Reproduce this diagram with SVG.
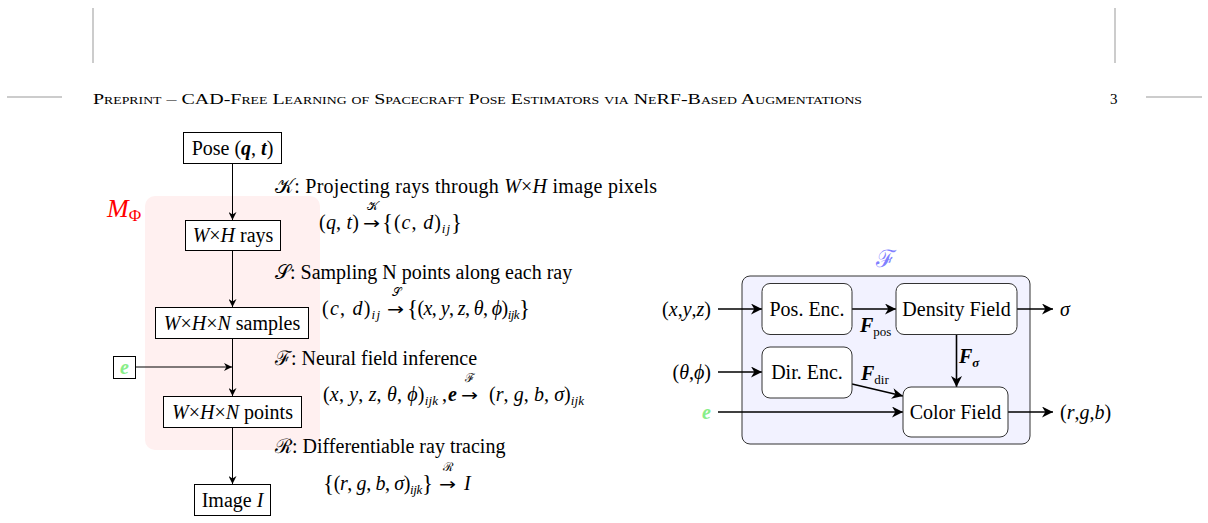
<svg xmlns="http://www.w3.org/2000/svg" width="1208" height="523" viewBox="0 0 1208 523">
<defs>
<style>
text{font-family:"Liberation Serif","DejaVu Serif",serif;fill:#000;}
.t20{font-size:20px;}
.i{font-style:italic;}
.b{font-weight:bold;}
.sub{font-size:13px;}
.lab{font-size:12px;}
.arr{font-family:"DejaVu Sans",sans-serif;font-size:17px;}
.lbox{fill:#fff;stroke:#000;stroke-width:1;}
.rbox{fill:#fff;stroke:#333;stroke-width:1;}
.ln{fill:none;stroke:#000;stroke-width:1;}
.lnr{fill:none;stroke:#000;stroke-width:1.6;}
.rule{stroke:#999;stroke-width:1;}
</style>
<marker id="ahl" viewBox="0 0 10 10" refX="10" refY="5" markerWidth="8" markerHeight="8" markerUnits="userSpaceOnUse" orient="auto"><path d="M0,0 L10,5 L0,10 L3,5 z" fill="#000"/></marker>
<marker id="ahr" viewBox="0 0 10 10" refX="10" refY="5" markerWidth="12" markerHeight="11" markerUnits="userSpaceOnUse" orient="auto"><path d="M0,0 L10,5 L0,10 L3,5 z" fill="#000"/></marker>
</defs>
<rect width="1208" height="523" fill="#fff"/>

<!-- page decorations -->
<g id="page">
<line class="rule" x1="93" y1="8" x2="93" y2="63"/>
<line class="rule" x1="1115" y1="8" x2="1115" y2="63"/>
<line class="rule" x1="7" y1="97" x2="62" y2="97"/>
<line class="rule" x1="1146" y1="97" x2="1202" y2="97"/>
<text x="93" y="104" font-size="14.5" font-variant="small-caps" textLength="769" lengthAdjust="spacingAndGlyphs">Preprint – CAD-Free Learning of Spacecraft Pose Estimators via NeRF-Based Augmentations</text>
<text x="1110" y="104" font-size="15">3</text>
</g>

<!-- M_Phi region -->
<g id="mphi">
<rect x="145" y="196" width="175" height="254" rx="10" fill="#fff0f0"/>
<text x="107" y="217" font-size="26" class="i" style="fill:#ff0000">M<tspan font-style="normal" font-size="17" dy="4">Φ</tspan></text>
</g>

<!-- F module background -->
<g id="F-module">
<rect x="742" y="276" width="288" height="168" rx="8" fill="#f2f2ff" stroke="#333" stroke-width="1"/>
<text x="886" y="267" font-size="24" text-anchor="middle" style="fill:#8080ff">ℱ</text>
</g>

<!-- connectors -->
<g id="connectors">
<line class="ln" x1="232.5" y1="163" x2="232.5" y2="220" marker-end="url(#ahl)"/>
<line class="ln" x1="232.5" y1="250" x2="232.5" y2="307" marker-end="url(#ahl)"/>
<line class="ln" x1="232.5" y1="338" x2="232.5" y2="396" marker-end="url(#ahl)"/>
<line class="ln" x1="136" y1="367" x2="232" y2="367" marker-end="url(#ahl)"/>
<line class="ln" x1="232.5" y1="427" x2="232.5" y2="484" marker-end="url(#ahl)"/>

<line class="lnr" x1="718" y1="309" x2="762" y2="309" marker-end="url(#ahr)"/>
<line class="lnr" x1="718" y1="372" x2="762" y2="372" marker-end="url(#ahr)"/>
<line class="lnr" x1="718" y1="412" x2="903" y2="412" marker-end="url(#ahr)"/>
<line class="lnr" x1="852" y1="309" x2="896" y2="309" marker-end="url(#ahr)"/>
<line class="lnr" x1="852" y1="384" x2="903" y2="396" marker-end="url(#ahr)"/>
<line class="lnr" x1="956.5" y1="334" x2="956.5" y2="387" marker-end="url(#ahr)"/>
<line class="lnr" x1="1017" y1="309" x2="1053" y2="309" marker-end="url(#ahr)"/>
<line class="lnr" x1="1008" y1="412" x2="1053" y2="412" marker-end="url(#ahr)"/>
</g>

<!-- left nodes -->
<g id="pose">
<rect class="lbox" x="183.5" y="132.5" width="98" height="31"/>
<text class="t20" x="232.5" y="155" text-anchor="middle">Pose (<tspan class="i b">q</tspan>, <tspan class="i b">t</tspan>)</text>
</g>
<g id="rays">
<rect class="lbox" x="185.5" y="220.5" width="95" height="30"/>
<text class="t20" x="233" y="242" text-anchor="middle"><tspan class="i">W</tspan>×<tspan class="i">H</tspan> rays</text>
</g>
<g id="samples">
<rect class="lbox" x="155.5" y="307.5" width="153" height="31"/>
<text class="t20" x="232" y="330" text-anchor="middle"><tspan class="i">W</tspan>×<tspan class="i">H</tspan>×<tspan class="i">N</tspan> samples</text>
</g>
<g id="e-node">
<rect class="lbox" x="113.5" y="356.5" width="22" height="22"/>
<text class="t20 i b" x="124.5" y="374" text-anchor="middle" style="fill:#88ee88">e</text>
</g>
<g id="points">
<rect class="lbox" x="163.5" y="396.5" width="138" height="31"/>
<text class="t20" x="232.5" y="419" text-anchor="middle"><tspan class="i">W</tspan>×<tspan class="i">H</tspan>×<tspan class="i">N</tspan> points</text>
</g>
<g id="image">
<rect class="lbox" x="194.5" y="484.5" width="76" height="31"/>
<text class="t20" x="232.5" y="507" text-anchor="middle">Image <tspan class="i">I</tspan></text>
</g>

<!-- annotations -->
<g id="step-K">
<text class="t20" x="275" y="193" textLength="382" lengthAdjust="spacing">𝒦: Projecting rays through <tspan class="i">W</tspan>×<tspan class="i">H</tspan> image pixels</text>
<text class="t20" x="319" y="229" textLength="40" lengthAdjust="spacing">(<tspan class="i">q</tspan>, <tspan class="i">t</tspan>)</text>
<text class="arr" x="363" y="229" textLength="17" lengthAdjust="spacingAndGlyphs">→</text>
<text class="lab" x="372" y="210" text-anchor="middle">𝒦</text>
<text class="t20" x="382" y="229" textLength="80" lengthAdjust="spacing"><tspan font-size="23" dy="1">{</tspan><tspan dy="-1">(</tspan><tspan class="i">c</tspan>, <tspan class="i">d</tspan>)<tspan class="sub i" dy="4">ij</tspan><tspan font-size="23" dy="-3">}</tspan></text>
</g>
<g id="step-S">
<text class="t20" x="275" y="279">𝒮: Sampling N points along each ray</text>
<text class="t20" x="322" y="315" textLength="58" lengthAdjust="spacing">(<tspan class="i">c</tspan>, <tspan class="i">d</tspan>)<tspan class="sub i" dy="4">ij</tspan></text>
<text class="arr" x="387" y="315" textLength="17" lengthAdjust="spacingAndGlyphs">→</text>
<text class="lab" x="396" y="296" text-anchor="middle">𝒮</text>
<text class="t20" x="407" y="315" textLength="123" lengthAdjust="spacing"><tspan font-size="23" dy="1">{</tspan><tspan dy="-1">(</tspan><tspan class="i">x</tspan>, <tspan class="i">y</tspan>, <tspan class="i">z</tspan>, <tspan class="i">θ</tspan>, <tspan class="i">ϕ</tspan>)<tspan class="sub i" dy="4">ijk</tspan><tspan font-size="23" dy="-3">}</tspan></text>
</g>
<g id="step-F">
<text class="t20" x="275" y="365">ℱ: Neural field inference</text>
<text class="t20" x="323" y="401" textLength="115" lengthAdjust="spacing">(<tspan class="i">x</tspan>, <tspan class="i">y</tspan>, <tspan class="i">z</tspan>, <tspan class="i">θ</tspan>, <tspan class="i">ϕ</tspan>)<tspan class="sub i" dy="4">ijk</tspan></text>
<text class="t20" x="442" y="401">,</text>
<text class="t20 i b" x="448" y="401">e</text>
<text class="arr" x="461" y="401" textLength="17" lengthAdjust="spacingAndGlyphs">→</text>
<text class="lab" x="470" y="382" text-anchor="middle">ℱ</text>
<text class="t20" x="489" y="401" textLength="95" lengthAdjust="spacing">(<tspan class="i">r</tspan>, <tspan class="i">g</tspan>, <tspan class="i">b</tspan>, <tspan class="i">σ</tspan>)<tspan class="sub i" dy="4">ijk</tspan></text>
</g>
<g id="step-R">
<text class="t20" x="275" y="453">ℛ: Differentiable ray tracing</text>
<text class="t20" x="323" y="490" textLength="110" lengthAdjust="spacing"><tspan font-size="23" dy="1">{</tspan><tspan dy="-1">(</tspan><tspan class="i">r</tspan>, <tspan class="i">g</tspan>, <tspan class="i">b</tspan>, <tspan class="i">σ</tspan>)<tspan class="sub i" dy="4">ijk</tspan><tspan font-size="23" dy="-3">}</tspan></text>
<text class="arr" x="439" y="490" textLength="17" lengthAdjust="spacingAndGlyphs">→</text>
<text class="lab" x="448" y="471" text-anchor="middle">ℛ</text>
<text class="t20 i" x="464" y="490">I</text>
</g>

<!-- right diagram nodes -->
<g id="pos-enc">
<rect class="rbox" x="762" y="283.5" width="90" height="51" rx="8"/>
<text class="t20" x="807" y="316" text-anchor="middle">Pos. Enc.</text>
</g>
<g id="dir-enc">
<rect class="rbox" x="762" y="347" width="90" height="51" rx="8"/>
<text class="t20" x="807" y="379" text-anchor="middle">Dir. Enc.</text>
</g>
<g id="density">
<rect class="rbox" x="896" y="283.5" width="121" height="51" rx="8"/>
<text class="t20" x="956.5" y="316" text-anchor="middle">Density Field</text>
</g>
<g id="color">
<rect class="rbox" x="903" y="387" width="105" height="50" rx="8"/>
<text class="t20" x="955.5" y="419" text-anchor="middle">Color Field</text>
</g>
<g id="labels">
<text class="t20" x="711" y="316" text-anchor="end">(<tspan class="i">x</tspan>,<tspan class="i">y</tspan>,<tspan class="i">z</tspan>)</text>
<text class="t20" x="711" y="379" text-anchor="end">(<tspan class="i">θ</tspan>,<tspan class="i">ϕ</tspan>)</text>
<text class="t20 i b" x="711" y="419" text-anchor="end" style="fill:#88ee88">e</text>
<text class="t20 i" x="1060" y="316">σ</text>
<text class="t20" x="1060" y="419">(<tspan class="i">r</tspan>,<tspan class="i">g</tspan>,<tspan class="i">b</tspan>)</text>
<text class="t20 i b" x="860" y="332">F<tspan class="sub" font-style="normal" font-weight="normal" dy="4">pos</tspan></text>
<text class="t20 i b" x="861" y="380">F<tspan class="sub" font-style="normal" font-weight="normal" dy="4">dir</tspan></text>
<text class="t20 i b" x="959" y="363">F<tspan class="sub" dy="4">σ</tspan></text>
</g>
</svg>
